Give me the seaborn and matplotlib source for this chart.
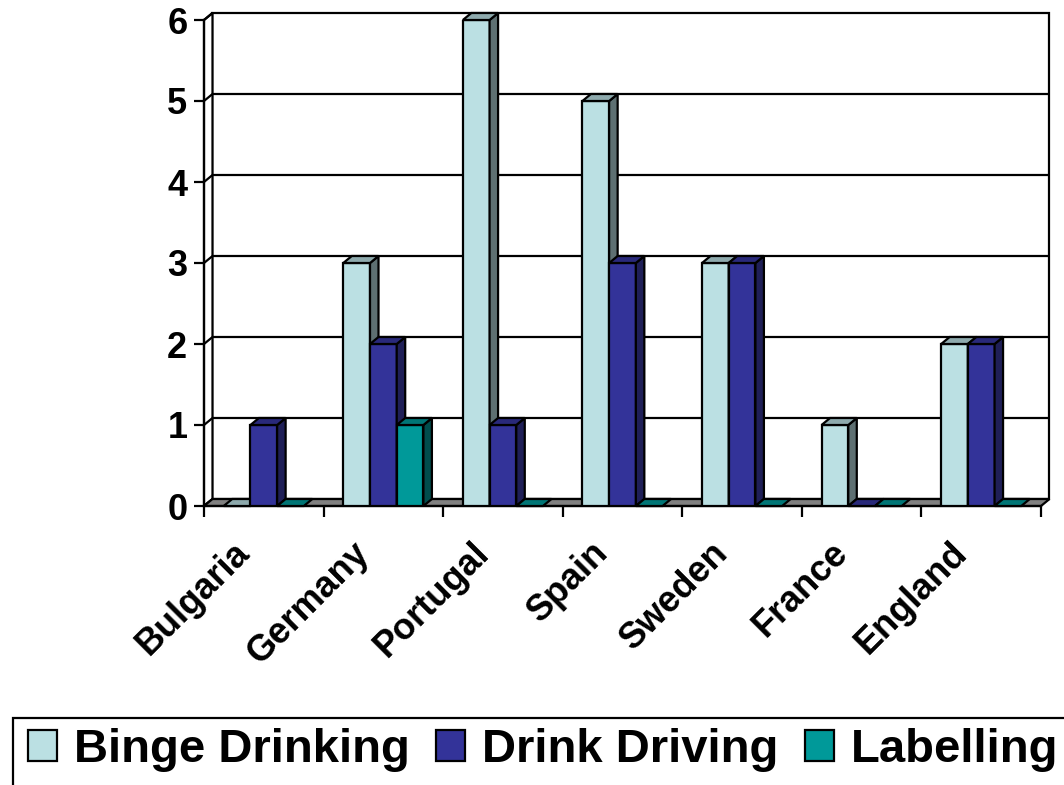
import numpy as np
import pandas as pd
import matplotlib
matplotlib.use("Agg")
import matplotlib.pyplot as plt
import matplotlib.patches as mpatches
import matplotlib.transforms as mtransforms
import seaborn as sns

# ===== data =====
countries = ["Bulgaria", "Germany", "Portugal", "Spain", "Sweden", "France", "England"]
series = ["Binge Drinking", "Drink Driving", "Labelling"]
binge_drinking = [0, 3, 6, 5, 3, 1, 2]
drink_driving = [1, 2, 1, 3, 3, 0, 2]
labelling = [0, 1, 0, 0, 0, 0, 0]

face_colors = ["#BBE0E3", "#333399", "#009999"]
side_colors = ["#5E7072", "#1F1F57", "#004D4D"]
top_colors = ["#8EAAAD", "#29297A", "#007575"]

df = pd.DataFrame({
    "country": countries * 3,
    "series": np.repeat(series, len(countries)),
    "value": binge_drinking + drink_driving + labelling,
})

sns.set_style("white")
plt.rcParams["font.family"] = ["Liberation Sans", "DejaVu Sans"]
plt.rcParams["font.weight"] = "bold"
plt.rcParams["text.color"] = "black"
plt.rcParams["xtick.color"] = "black"
plt.rcParams["ytick.color"] = "black"

fig = plt.figure(figsize=(10.64, 7.85), dpi=100)
ax = fig.add_axes([204 / 1064, (785 - 506) / 785, 837 / 1064, 486 / 785])

# depth of the fake 3d box (data units)
dx = 8.5 / 119.6
dy = 7.0 / 81.0
x_lo, x_hi = -0.5, len(countries) - 0.5
y_top = 6

# back wall + grid
ax.add_patch(mpatches.Rectangle((x_lo + dx, dy), x_hi - x_lo, y_top, facecolor="white",
                                edgecolor="black", lw=1.6, zorder=0.5, clip_on=False))
for yv in range(1, y_top):
    ax.plot([x_lo + dx, x_hi + dx], [yv + dy, yv + dy], color="black", lw=1.6,
            zorder=0.6, clip_on=False, solid_capstyle="butt")
# left wall
ax.add_patch(mpatches.Polygon([(x_lo, 0), (x_lo + dx, dy), (x_lo + dx, y_top + dy), (x_lo, y_top)],
                              closed=True, facecolor="white", edgecolor="black", lw=1.6,
                              zorder=0.7, clip_on=False))
for yv in range(0, y_top + 1):
    ax.plot([x_lo, x_lo + dx], [yv, yv + dy], color="black", lw=1.6, zorder=0.75, clip_on=False)
# floor
ax.add_patch(mpatches.Polygon([(x_lo, 0), (x_hi, 0), (x_hi + dx, dy), (x_lo + dx, dy)],
                              closed=True, facecolor="#808080", edgecolor="black", lw=1.6,
                              zorder=0.8, clip_on=False))

sns.barplot(data=df, x="country", y="value", hue="series", palette=face_colors,
            saturation=1, width=0.67, edgecolor="black", linewidth=1.6, legend=False, ax=ax)

# sides and tops, drawn left to right
bars = []
for j, cont in enumerate(ax.containers):
    for rect in cont:
        bars.append((rect.get_x(), j, rect))
bars.sort(key=lambda b: b[0])
for i, (x0, j, rect) in enumerate(bars):
    z = 2 + i * 0.01
    w = rect.get_width()
    h = rect.get_height()
    rect.set_zorder(z)
    if h > 0:
        ax.add_patch(mpatches.Polygon([(x0 + w, 0), (x0 + w + dx, dy), (x0 + w + dx, h + dy), (x0 + w, h)],
                                      closed=True, facecolor=side_colors[j], edgecolor="black",
                                      lw=1.6, zorder=z + 0.001, clip_on=False))
    ax.add_patch(mpatches.Polygon([(x0, h), (x0 + w, h), (x0 + w + dx, h + dy), (x0 + dx, h + dy)],
                                  closed=True, facecolor=top_colors[j], edgecolor="black",
                                  lw=1.6, zorder=z + 0.002, clip_on=False))

ax.set_xlim(x_lo, x_hi)
ax.set_ylim(0, y_top)
ax.set_xlabel("")
ax.set_ylabel("")
sns.despine(ax=ax, top=True, right=True)
for sp in ["left", "bottom"]:
    ax.spines[sp].set_linewidth(1.6)
    ax.spines[sp].set_color("black")
    ax.spines[sp].set_zorder(0.9)

ax.set_yticks(range(0, y_top + 1))
ax.set_yticklabels([str(v) for v in range(0, y_top + 1)], fontsize=26, fontweight="bold")
ax.tick_params(axis="y", direction="out", length=7, width=1.6, pad=5, left=True)

ax.set_xticks(np.arange(x_lo, x_hi + 0.01, 1))
ax.set_xticklabels([])
ax.set_xticks(range(len(countries)), minor=True)
ax.set_xticklabels(countries, minor=True, rotation=45, ha="right", fontsize=26, fontweight="bold")
ax.tick_params(axis="x", which="major", direction="out", length=8, width=1.6, bottom=True)
ax.tick_params(axis="x", which="minor", length=0, pad=21)
offset = mtransforms.ScaledTranslation(-0.07, 0, fig.dpi_scale_trans)
for lab in ax.get_xticklabels(minor=True):
    lab.set_transform(lab.get_transform() + offset)

# legend
fig.add_artist(mpatches.Rectangle((12.7 / 1064, -0.1), 1.2, 0.1 + (785 - 718) / 785,
                                  transform=fig.transFigure, facecolor="none",
                                  edgecolor="black", lw=1.6))
handles = [mpatches.Patch(facecolor=c, edgecolor="black", lw=1.6) for c in face_colors]
fig.legend(handles, series, loc="upper left", bbox_to_anchor=(28 / 1064, 1 - 728 / 785),
           ncol=3, frameon=False, borderpad=0, borderaxespad=0,
           prop={"size": 34, "weight": "bold"}, handlelength=0.62, handleheight=0.62,
           handletextpad=0.36, columnspacing=0.55)

fig.savefig("out.png", dpi=100)
